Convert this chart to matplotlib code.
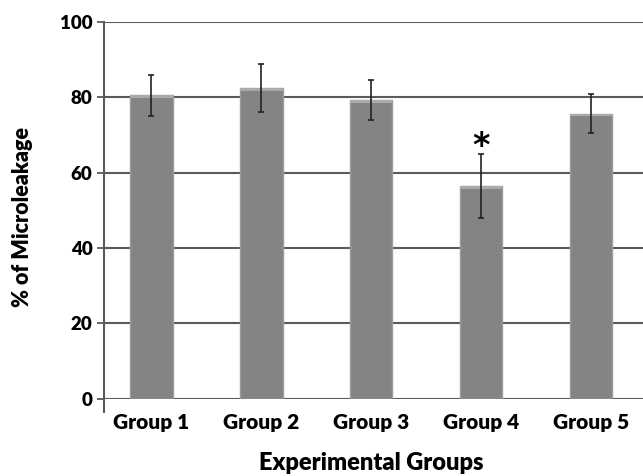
import matplotlib.pyplot as plt
import numpy as np

# data
groups = ['Group 1', 'Group 2', 'Group 3', 'Group 4', 'Group 5']
microleakage = [80.5, 82.5, 79.3, 56.5, 75.7]
sd = [5.5, 6.4, 5.2, 8.5, 5.2]
yticks = [0, 20, 40, 60, 80, 100]

plt.rcParams['font.family'] = ['Lato', 'DejaVu Sans']

fig = plt.figure(figsize=(6.43, 4.76), dpi=100)
ax = fig.add_axes([0.162, 0.162, 0.838, 0.792])

x = np.arange(len(groups))
vals = np.array(microleakage)

# horizontal grid lines
for t in yticks:
    ax.axhline(t, color='#5a5a5a', lw=1.5, zorder=1)

# bars with a light top rim, like the spreadsheet 3-D look
ax.bar(x, vals, width=0.39, color='#848484', edgecolor='#9c9c9c', lw=1.0, zorder=2)
ax.bar(x, 0.7, width=0.39, bottom=vals - 0.7, color='#aaaaaa', lw=0, zorder=3)
ax.errorbar(x, vals, yerr=sd, fmt='none', ecolor='#222222', elinewidth=1.2,
            capsize=2.5, capthick=1.2, zorder=4)

# significance mark on group 4
ax.text(x[3], vals[3] + sd[3] - 0.6, '*', ha='center', va='baseline',
        fontsize=24, fontweight='bold', color='black', family='DejaVu Sans')

ax.set_xlim(-0.427, 4.473)
ax.set_ylim(0, 100)
ax.set_yticks(yticks)
ax.set_yticklabels([str(t) for t in yticks], fontsize=13.5, fontweight=800)
ax.set_xticks(x)
ax.set_xticklabels(groups, fontsize=15, fontweight=800)
ax.tick_params(axis='x', length=0, pad=10)
ax.tick_params(axis='y', length=5, width=1.3, color='#5a5a5a', pad=3.5)

for s in ['top', 'right', 'bottom']:
    ax.spines[s].set_visible(False)
ax.spines['left'].set_color('#5a5a5a')
ax.spines['left'].set_linewidth(1.5)
ax.spines['left'].set_bounds(-3.5, 100)

ax.set_ylabel('% of Microleakage', fontsize=15.5, fontweight=800)
ax.set_xlabel('Experimental Groups', fontsize=17, fontweight=800)
ax.yaxis.set_label_coords(-0.132, 0.483)
ax.xaxis.set_label_coords(0.495, -0.14)

fig.savefig('out.png', dpi=100)
